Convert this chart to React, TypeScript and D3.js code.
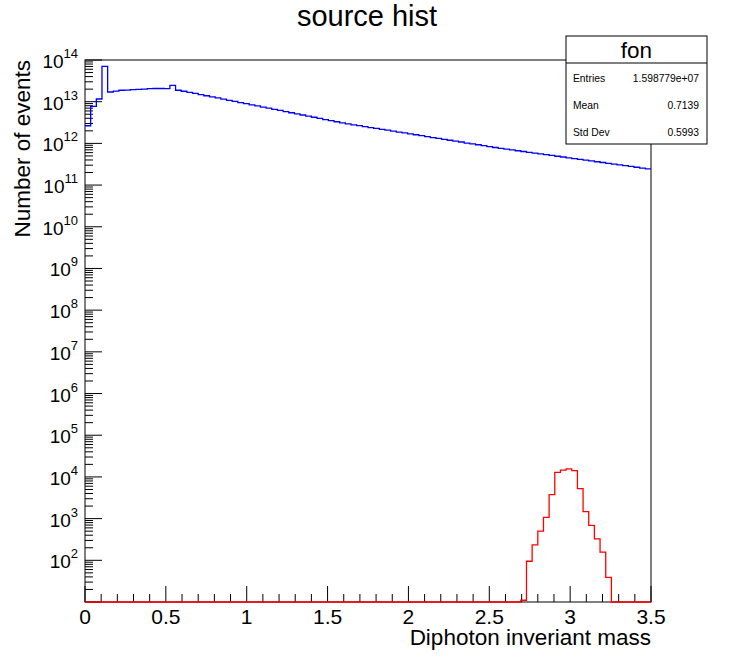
import React from "react";
import * as d3 from "d3";

// ---- data ----
const X_MIN = 0;
const X_MAX = 3.5;
const N_BINS = 100;
const Y_MIN = 10;
const Y_MAX = 1e14;

const titleText = "source hist";
const xTitle = "Diphoton inveriant mass";
const yTitle = "Number of events";
const xTickValues = [0, 0.5, 1, 1.5, 2, 2.5, 3, 3.5];
const xTickLabels = ["0", "0.5", "1", "1.5", "2", "2.5", "3", "3.5"];
const yDecadeExponents = [2, 3, 4, 5, 6, 7, 8, 9, 10, 11, 12, 13, 14];

const statsTitle = "fon";
const statsNames = ["Entries", "Mean", "Std Dev"];
const statsValues = ["1.598779e+07", "0.7139", "0.5993"];

// background ("fon") histogram, 100 bins
const blueCounts = [
  2.65e12, 7.7e12, 1.16e13, 7.06e13, 1.71e13, 1.8e13, 1.88e13, 1.9e13, 1.94e13, 1.98e13,
  2.01e13, 2.05e13, 2.07e13, 2.07e13, 2.05e13, 2.46e13, 1.88e13, 1.78e13, 1.68e13, 1.58e13,
  1.48e13, 1.39e13, 1.31e13, 1.23e13, 1.15e13, 1.08e13, 1.02e13, 9.55e12, 8.97e12, 8.43e12,
  7.91e12, 7.43e12, 6.98e12, 6.56e12, 6.17e12, 5.78e12, 5.43e12, 5.11e12, 4.8e12, 4.51e12,
  4.23e12, 3.97e12, 3.73e12, 3.51e12, 3.3e12, 3.09e12, 2.94e12, 2.79e12, 2.66e12, 2.53e12,
  2.4e12, 2.29e12, 2.17e12, 2.07e12, 1.97e12, 1.87e12, 1.78e12, 1.69e12, 1.61e12, 1.53e12,
  1.46e12, 1.38e12, 1.32e12, 1.25e12, 1.19e12, 1.13e12, 1.08e12, 1.02e12, 9.75e11, 9.27e11,
  8.81e11, 8.38e11, 7.96e11, 7.59e11, 7.26e11, 6.95e11, 6.65e11, 6.38e11, 6.11e11, 5.85e11,
  5.6e11, 5.36e11, 5.13e11, 4.92e11, 4.71e11, 4.51e11, 4.32e11, 4.13e11, 3.95e11, 3.79e11,
  3.63e11, 3.48e11, 3.33e11, 3.18e11, 3.05e11, 2.92e11, 2.8e11, 2.68e11, 2.56e11, 2.45e11,
];

// signal histogram: non-zero bins start at bin 77
const redFirstBin = 77;
const redCounts = [
  11, 95, 235, 500, 1070, 3760, 12900, 14500, 15600, 14100, 5260, 1470, 690, 325, 158, 39,
];

// ---- layout ----
const W = 729;
const H = 657;
const L = 85;
const R = 651;
const T = 60;
const B = 602;
const FONT = "'Liberation Sans', Arial, Helvetica, sans-serif";

function stepPath(
  counts: number[],
  x: d3.ScaleLinear<number, number>,
  y: d3.ScaleLogarithmic<number, number>,
  bw: number
) {
  const p = d3.path();
  counts.forEach((c, i) => {
    const v = c > Y_MIN ? Math.min(c, Y_MAX) : Y_MIN;
    const x0 = x(X_MIN + i * bw);
    const x1 = x(X_MIN + (i + 1) * bw);
    const yy = y(v);
    if (i === 0) p.moveTo(x0, yy);
    else p.lineTo(x0, yy);
    p.lineTo(x1, yy);
  });
  return p.toString();
}

export default function App() {
  const x = d3.scaleLinear().domain([X_MIN, X_MAX]).range([L, R]);
  const y = d3.scaleLog().domain([Y_MIN, Y_MAX]).range([B, T]);
  const bw = (X_MAX - X_MIN) / N_BINS;

  const red: number[] = d3.range(N_BINS).map((i) => {
    const k = i - redFirstBin;
    return k >= 0 && k < redCounts.length ? redCounts[k] : 0;
  });

  // minor x ticks every 0.1
  const xMinor = d3
    .range(0, 36)
    .map((i) => i / 10)
    .filter((v) => Math.abs(v * 2 - Math.round(v * 2)) > 1e-6);

  // y ticks
  const yMajor: number[] = [];
  const yMinor: number[] = [];
  for (let e = 1; e <= 14; e++) {
    yMajor.push(Math.pow(10, e));
    if (e < 14) for (let m = 2; m <= 9; m++) yMinor.push(m * Math.pow(10, e));
  }

  const sx0 = 566, sx1 = 707, sy0 = 36, sy1 = 144, ssep = 63;

  return (
    <svg
      width={W}
      height={H}
      viewBox={`0 0 ${W} ${H}`}
      style={{ position: "absolute", left: 0, top: 0, background: "#fff" }}
      fontFamily={FONT}
    >
      <rect x={0} y={0} width={W} height={H} fill="#fff" />

      {/* title */}
      <text x={367} y={26} textAnchor="middle" fontSize={29}>
        {titleText}
      </text>

      {/* frame */}
      <rect x={L} y={T} width={R - L} height={B - T} fill="none" stroke="#000" strokeWidth={1} />

      {/* x ticks */}
      {xTickValues.map((v) => (
        <line key={"xM" + v} x1={x(v)} x2={x(v)} y1={B} y2={B - 16} stroke="#000" strokeWidth={1} />
      ))}
      {xMinor.map((v) => (
        <line key={"xm" + v} x1={x(v)} x2={x(v)} y1={B} y2={B - 8} stroke="#000" strokeWidth={1} />
      ))}
      {xTickValues.map((v, i) => (
        <text key={"xl" + v} x={x(v)} y={624} textAnchor="middle" fontSize={21}>
          {xTickLabels[i]}
        </text>
      ))}

      {/* y ticks */}
      {yMajor.map((v) => (
        <line key={"yM" + v} x1={L} x2={L + 17} y1={y(v)} y2={y(v)} stroke="#000" strokeWidth={1} />
      ))}
      {yMinor.map((v) => (
        <line key={"ym" + v} x1={L} x2={L + 8} y1={y(v)} y2={y(v)} stroke="#000" strokeWidth={1} />
      ))}
      {yDecadeExponents.map((e) => {
        const yy = y(Math.pow(10, e));
        return (
          <text key={"yl" + e} x={78} y={yy + 8} textAnchor="end" fontSize={19}>
            10
            <tspan fontSize={13} dy={-10}>
              {e}
            </tspan>
          </text>
        );
      })}

      {/* axis titles */}
      <text x={651} y={645} textAnchor="end" fontSize={22.5}>
        {xTitle}
      </text>
      <text transform="translate(30,60) rotate(-90)" textAnchor="end" fontSize={22.5}>
        {yTitle}
      </text>

      {/* histograms */}
      <path d={stepPath(blueCounts, x, y, bw)} fill="none" stroke="#0000ff" strokeWidth={1.3} />
      <path d={stepPath(red, x, y, bw)} fill="none" stroke="#ff0000" strokeWidth={1.3} />

      {/* stats box */}
      <rect x={sx0} y={sy0} width={sx1 - sx0} height={sy1 - sy0} fill="#fff" stroke="#000" strokeWidth={1} />
      <line x1={sx0} x2={sx1} y1={ssep} y2={ssep} stroke="#000" strokeWidth={1} />
      <text x={(sx0 + sx1) / 2} y={58} textAnchor="middle" fontSize={22.5}>
        {statsTitle}
      </text>
      {statsNames.map((n, i) => (
        <g key={n}>
          <text x={573} y={81.5 + i * 27} fontSize={10.3}>
            {n}
          </text>
          <text x={699} y={81.5 + i * 27} fontSize={10.3} textAnchor="end">
            {statsValues[i]}
          </text>
        </g>
      ))}
    </svg>
  );
}
